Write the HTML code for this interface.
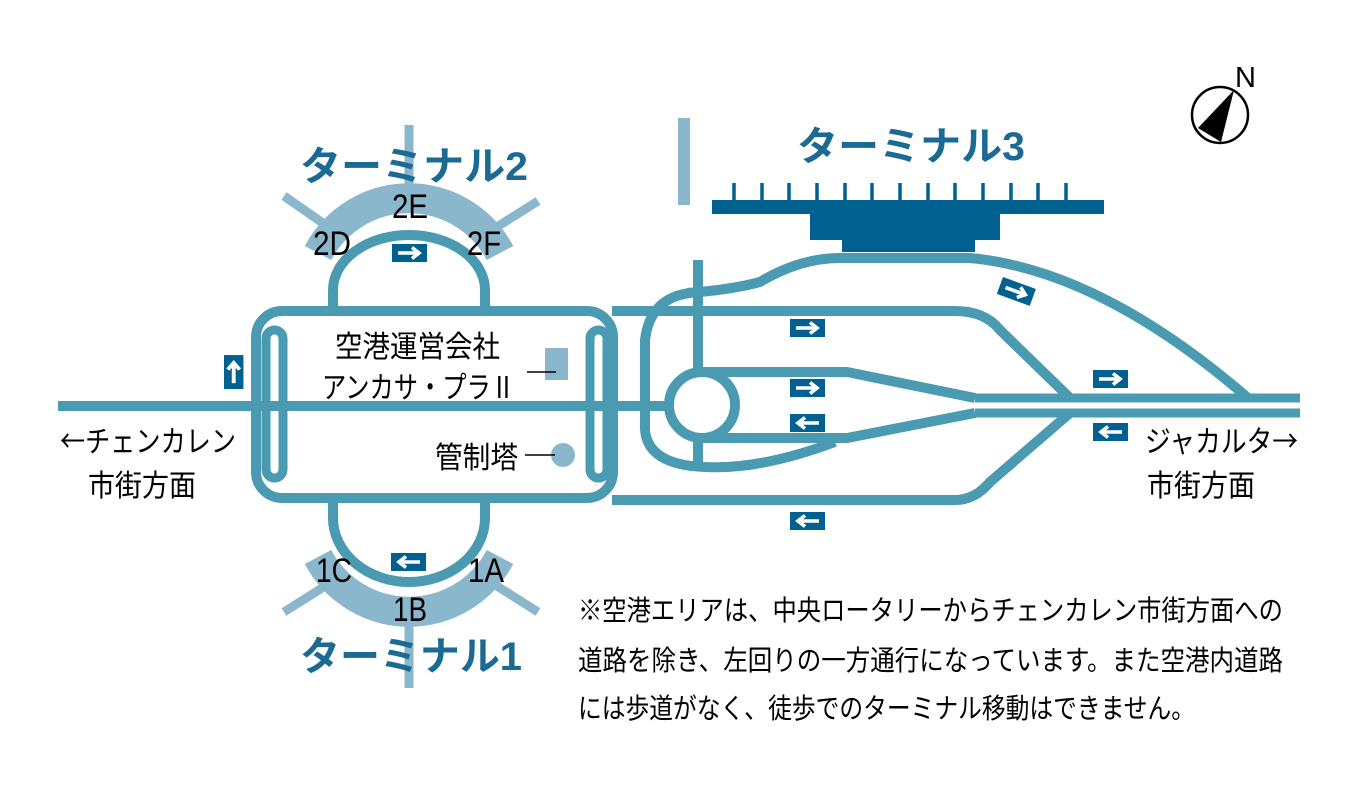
<!DOCTYPE html>
<html><head><meta charset="utf-8"><style>
html,body{margin:0;padding:0;background:#fff;}
svg{display:block;}
text{font-family:"Liberation Sans","Noto Sans CJK JP",sans-serif;}
.cjk{font-family:"Noto Sans CJK JP",sans-serif;}
</style></head><body>
<svg width="1363" height="791" viewBox="0 0 1363 791" xmlns="http://www.w3.org/2000/svg">
<defs>
<g id="ar">
<rect x="0" y="0" width="35" height="18" fill="#00608f"/>
<path d="M6,9 H26 M20,3.5 L27,9 L20,14.5" stroke="#fff" stroke-width="3.6" fill="none" stroke-linejoin="miter"/>
</g>
</defs>
<g stroke="#8ab7cb" fill="none">
<line x1="409" y1="125" x2="409" y2="200" stroke-width="9"/>
<line x1="409" y1="600" x2="409" y2="688" stroke-width="9"/>
<line x1="284" y1="196" x2="330" y2="228" stroke-width="9"/>
<line x1="538" y1="201" x2="492" y2="230" stroke-width="9"/>
<line x1="284" y1="612" x2="330" y2="583" stroke-width="9"/>
<line x1="538" y1="612" x2="492" y2="583" stroke-width="9"/>
<path d="M318,253 A103,103 0 0 1 500,253" stroke-width="30"/>
<path d="M318,557 A103,103 0 0 0 500,557" stroke-width="30"/>
<line x1="684" y1="118" x2="684" y2="205" stroke-width="12"/>
</g>
<rect x="545" y="348" width="23" height="32" fill="#8ab7cb"/>
<circle cx="563" cy="455" r="12" fill="#8ab7cb"/>
<g stroke="#4a9bb2" fill="none" stroke-width="10">
<line x1="58" y1="406" x2="668" y2="406"/>
<rect x="256" y="311" width="357" height="187" rx="26"/>
<rect x="266" y="330" width="17" height="148" rx="8.5" stroke-width="9"/>
<rect x="590" y="330" width="17" height="148" rx="8.5" stroke-width="9"/>
<path d="M333,306 L333,290 A76,55 0 0 1 485,290 L485,306"/>
<path d="M333,498 L333,518 A76,64 0 0 0 485,518 L485,498"/>
<path d="M612,311 H955 Q985,311 1000,330 L1070,398"/>
<path d="M612,500 H955 Q975,500 990,482 L1070,413"/>
<line x1="698" y1="260" x2="698" y2="463"/>
<path d="M700,372 H847 L975,398"/>
<path d="M700,438 H847 L975,413"/>
<path d="M690,293 Q650,298 645,340 V430 Q648,465 705,467 Q760,470 835,442"/>
<path d="M687,293 Q730,290 760,282 Q800,258 840,258 H970 Q1100,270 1248,398"/>
<line x1="975" y1="398" x2="1300" y2="398" stroke-width="9"/>
<line x1="975" y1="413" x2="1300" y2="413" stroke-width="9"/>
</g>
<circle cx="702" cy="405" r="33" fill="#fff" stroke="#4a9bb2" stroke-width="10"/>
<g fill="#00608f">
<rect x="712" y="200" width="392" height="14"/>
<rect x="810" y="214" width="190" height="26"/>
<rect x="842" y="240" width="133" height="12"/>
</g>
<g stroke="#00608f" stroke-width="3.5">
<line x1="734" y1="183" x2="734" y2="200"/><line x1="762" y1="183" x2="762" y2="200"/>
<line x1="789" y1="183" x2="789" y2="200"/><line x1="817" y1="183" x2="817" y2="200"/>
<line x1="845" y1="183" x2="845" y2="200"/><line x1="872" y1="183" x2="872" y2="200"/>
<line x1="900" y1="183" x2="900" y2="200"/><line x1="928" y1="183" x2="928" y2="200"/>
<line x1="955" y1="183" x2="955" y2="200"/><line x1="983" y1="183" x2="983" y2="200"/>
<line x1="1011" y1="183" x2="1011" y2="200"/><line x1="1038" y1="183" x2="1038" y2="200"/>
<line x1="1066" y1="183" x2="1066" y2="200"/>
</g>
<use href="#ar" x="392" y="244"/>
<use href="#ar" transform="translate(426,571) rotate(180)"/>
<use href="#ar" transform="translate(224,389) rotate(-90) scale(0.97,1.08)"/>
<use href="#ar" x="790" y="319"/>
<use href="#ar" x="790" y="379"/>
<use href="#ar" transform="translate(825,432) rotate(180)"/>
<use href="#ar" transform="translate(825,530) rotate(180)"/>
<use href="#ar" x="1093" y="370"/>
<use href="#ar" transform="translate(1128,441) rotate(180)"/>
<use href="#ar" transform="translate(1003,277) rotate(20)"/>
<line x1="527" y1="372" x2="556" y2="372" stroke="#000" stroke-width="1.5"/>
<line x1="525" y1="455" x2="555" y2="455" stroke="#000" stroke-width="1.5"/>
<circle cx="1220" cy="115" r="28" fill="none" stroke="#000" stroke-width="2.5"/>
<polygon points="1234,90 1198,128 1221,142" fill="#000"/>
<text x="1235" y="87" font-size="29" fill="#000">N</text>
<g fill="#1a6a94" font-weight="bold" font-size="40">
<text x="300" y="180" textLength="228" lengthAdjust="spacingAndGlyphs">ターミナル2</text>
<text x="300" y="670" textLength="222" lengthAdjust="spacingAndGlyphs">ターミナル1</text>
<text x="797" y="160" textLength="228" lengthAdjust="spacingAndGlyphs">ターミナル3</text>
</g>
<g font-size="34" fill="#000" text-anchor="middle">
<text x="410" y="218" textLength="36" lengthAdjust="spacingAndGlyphs">2E</text>
<text x="332" y="255" textLength="38" lengthAdjust="spacingAndGlyphs">2D</text>
<text x="484" y="255" textLength="34" lengthAdjust="spacingAndGlyphs">2F</text>
<text x="334" y="582" textLength="36" lengthAdjust="spacingAndGlyphs">1C</text>
<text x="486" y="582" textLength="36" lengthAdjust="spacingAndGlyphs">1A</text>
<text x="410" y="621" textLength="34" lengthAdjust="spacingAndGlyphs">1B</text>
</g>
<g font-size="30" fill="#000">
<text x="335" y="357" textLength="165" lengthAdjust="spacingAndGlyphs">空港運営会社</text>
<text x="322" y="398" textLength="193" lengthAdjust="spacingAndGlyphs">アンカサ・プラⅡ</text>
<text x="435" y="468" textLength="83" lengthAdjust="spacingAndGlyphs">管制塔</text>
<text x="60" y="452" textLength="176" lengthAdjust="spacingAndGlyphs" class="cjk">←チェンカレン</text>
<text x="88" y="496" textLength="108" lengthAdjust="spacingAndGlyphs">市街方面</text>
<text x="1145" y="452" textLength="153" lengthAdjust="spacingAndGlyphs" class="cjk">ジャカルタ→</text>
<text x="1147" y="496" textLength="108" lengthAdjust="spacingAndGlyphs">市街方面</text>
</g>
<g font-size="28" fill="#000">
<text x="578" y="620" textLength="705" lengthAdjust="spacingAndGlyphs">※空港エリアは、中央ロータリーからチェンカレン市街方面への</text>
<text x="578" y="670" textLength="705" lengthAdjust="spacingAndGlyphs">道路を除き、左回りの一方通行になっています。また空港内道路</text>
<text x="578" y="718" textLength="617" lengthAdjust="spacingAndGlyphs">には歩道がなく、徒歩でのターミナル移動はできません。</text>
</g>
</svg>
</body></html>
